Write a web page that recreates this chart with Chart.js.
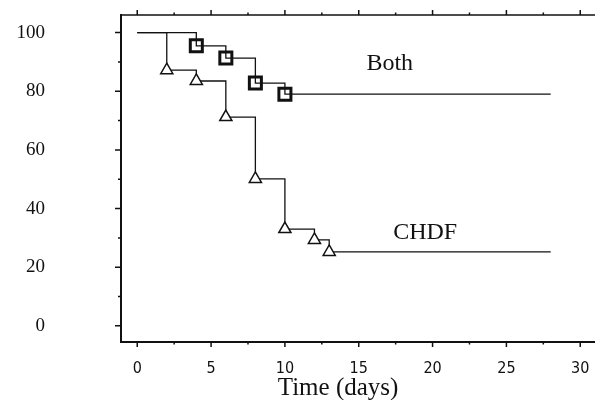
<!DOCTYPE html>
<html>
<head>
<meta charset="utf-8">
<script src="https://cdn.jsdelivr.net/npm/chart.js@4"></script>
<style>
    body { margin: 0; background: #fff; }
    canvas { display: block; }
</style>
</head>
<body>
<canvas id="survivalChart" width="595" height="400"></canvas>
<script>
// Survival curves (percent)
var bothDays = [0, 4, 6, 8, 10, 28];
var bothSurvival = [100, 95.5, 91.3, 82.8, 79, 79];
var chdfDays = [0, 2, 4, 6, 8, 10, 12, 13, 28];
var chdfSurvival = [100, 87.2, 83.5, 71.2, 50.1, 33, 29.3, 25.2, 25.2];

// Labelled ticks, everything in between only gets a small tick mark
var xTickLabels = [0, 5, 10, 15, 20, 25, 30];
var yTickLabels = [0, 20, 40, 60, 80, 100];

var serif = "'Liberation Serif', 'Times New Roman', serif";
var narrow = "'Liberation Sans Narrow', 'DejaVu Sans Condensed', 'Arial Narrow', sans-serif";

// Builds {x, y} points for a dataset
function toPoints(days, values) {
    return days.map(function (d, i) { return { x: d, y: values[i] }; });
}

// No markers on the first and last point of a curve
function markerRadius(size) {
    return function (ctx) {
        var n = ctx.dataset.data.length;
        return (ctx.dataIndex === 0 || ctx.dataIndex === n - 1) ? 0 : size;
    };
}

// Draws the frame ticks and the free text labels
var framePlugin = {
    id: 'frame',
    afterDraw: function (chart) {
        var ctx = chart.ctx;
        var area = chart.chartArea;
        var xs = chart.scales.x;
        var ys = chart.scales.y;
        ctx.save();
        ctx.strokeStyle = '#111';
        ctx.lineWidth = 1.5;

        // top line of the frame
        ctx.beginPath();
        ctx.moveTo(area.left, area.top);
        ctx.lineTo(area.right, area.top);
        ctx.stroke();

        ctx.beginPath();
        xs.ticks.forEach(function (t) {
            var px = xs.getPixelForValue(t.value);
            var len = xTickLabels.indexOf(t.value) >= 0 ? 5 : 2.5;
            ctx.moveTo(px, area.bottom);
            ctx.lineTo(px, area.bottom + len);
            ctx.moveTo(px, area.top);
            ctx.lineTo(px, area.top - len);
        });
        ys.ticks.forEach(function (t) {
            var py = ys.getPixelForValue(t.value);
            var len = yTickLabels.indexOf(t.value) >= 0 ? 6 : 3;
            ctx.moveTo(area.left, py);
            ctx.lineTo(area.left - len, py);
        });
        ctx.stroke();

        // curve names and the axis title
        ctx.fillStyle = '#111';
        ctx.textAlign = 'center';
        ctx.textBaseline = 'middle';
        ctx.font = '24px ' + serif;
        ctx.fillText('Both', xs.getPixelForValue(17.1), ys.getPixelForValue(89.3));
        ctx.fillText('CHDF', xs.getPixelForValue(19.5), ys.getPixelForValue(31.7));
        ctx.font = '25px ' + serif;
        ctx.textBaseline = 'alphabetic';
        ctx.fillText('Time (days)', xs.getPixelForValue(13.6), 395);
        ctx.restore();
    }
};

var ctx = document.getElementById('survivalChart').getContext('2d');

var survivalChart = new Chart(ctx, {
    type: 'line',
    data: {
        datasets: [{
            label: 'CHDF',
            data: toPoints(chdfDays, chdfSurvival),
            stepped: true,
            borderColor: '#111',
            borderWidth: 1.3,
            pointStyle: 'triangle',
            pointRadius: markerRadius(7),
            pointBorderWidth: 1.5,
            pointBorderColor: '#111',
            pointBackgroundColor: '#fff',
            fill: false
        }, {
            label: 'Both',
            data: toPoints(bothDays, bothSurvival),
            stepped: true,
            borderColor: '#111',
            borderWidth: 1.3,
            pointStyle: 'rect',
            pointRadius: markerRadius(8.5),
            pointBorderWidth: 3,
            pointBorderColor: '#111',
            pointBackgroundColor: 'rgba(0,0,0,0)',
            fill: false
        }]
    },
    options: {
        responsive: false,
        animation: false,
        layout: { padding: { top: 15, right: 0, left: 0, bottom: 0 } },
        plugins: {
            legend: { display: false },
            tooltip: { enabled: false }
        },
        elements: { point: { hoverRadius: 0 } },
        scales: {
            x: {
                type: 'linear',
                min: -1.1,
                max: 31,
                grid: { display: false, drawTicks: false },
                border: { display: true, color: '#111', width: 2 },
                ticks: {
                    stepSize: 2.5,
                    includeBounds: false,
                    padding: 17,
                    color: '#111',
                    font: { family: narrow, size: 16 },
                    maxRotation: 0,
                    autoSkip: false,
                    callback: function (v) { return xTickLabels.indexOf(v) >= 0 ? String(v) : ''; }
                },
                // fixed axis height, no extra side padding from the labels
                afterFit: function (scale) {
                    scale.height = 58;
                    scale.paddingLeft = 0;
                    scale.paddingRight = 0;
                }
            },
            y: {
                min: -5.5,
                max: 106,
                grid: { display: false, drawTicks: false },
                border: { display: true, color: '#111', width: 2 },
                ticks: {
                    stepSize: 10,
                    includeBounds: false,
                    padding: 76,
                    color: '#111',
                    font: { family: serif, size: 19 },
                    autoSkip: false,
                    callback: function (v) { return yTickLabels.indexOf(v) >= 0 ? String(v) : ''; }
                },
                afterFit: function (scale) {
                    scale.width = 121;
                    scale.paddingTop = 0;
                    scale.paddingBottom = 0;
                }
            }
        }
    },
    plugins: [framePlugin]
});
</script>
</body>
</html>
